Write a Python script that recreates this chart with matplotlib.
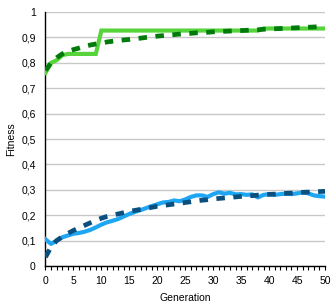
import matplotlib
matplotlib.use("Agg")
import matplotlib.pyplot as plt
from matplotlib.ticker import MultipleLocator, FuncFormatter

plt.rcParams['font.family'] = ['Liberation Sans', 'DejaVu Sans']

generations = list(range(51))

green_solid = [0.76, 0.80, 0.81, 0.83, 0.835, 0.835, 0.835, 0.835, 0.835, 0.835,
               0.927, 0.927, 0.927, 0.927, 0.927, 0.927, 0.927, 0.927, 0.927, 0.927,
               0.927, 0.927, 0.927, 0.927, 0.927, 0.927, 0.927, 0.927, 0.927, 0.927,
               0.927, 0.927, 0.927, 0.927, 0.927, 0.927, 0.927, 0.927, 0.927, 0.935,
               0.935, 0.935, 0.935, 0.935, 0.935, 0.935, 0.935, 0.935, 0.935, 0.935, 0.935]

green_dashed = [0.77, 0.80, 0.82, 0.835, 0.845, 0.852, 0.858, 0.865, 0.87, 0.874,
                0.878, 0.882, 0.885, 0.888, 0.89, 0.892, 0.895, 0.897, 0.9, 0.902,
                0.905, 0.907, 0.909, 0.911, 0.913, 0.915, 0.916, 0.918, 0.919, 0.92,
                0.922, 0.923, 0.924, 0.925, 0.926, 0.927, 0.928, 0.929, 0.93, 0.932,
                0.933, 0.934, 0.935, 0.936, 0.937, 0.938, 0.939, 0.94, 0.941, 0.942, 0.943]

blue_solid = [0.105, 0.087, 0.10, 0.113, 0.12, 0.127, 0.13, 0.135, 0.142, 0.152,
              0.163, 0.172, 0.178, 0.185, 0.195, 0.205, 0.213, 0.22, 0.228, 0.236,
              0.243, 0.25, 0.252, 0.258, 0.255, 0.262, 0.272, 0.278, 0.278, 0.272,
              0.283, 0.29, 0.285, 0.288, 0.282, 0.283, 0.28, 0.282, 0.27, 0.28,
              0.283, 0.28, 0.283, 0.285, 0.283, 0.286, 0.29, 0.286, 0.278, 0.275, 0.273]

blue_dashed = [0.035, 0.075, 0.10, 0.115, 0.128, 0.14, 0.15, 0.16, 0.17, 0.18,
               0.188, 0.195, 0.2, 0.205, 0.21, 0.215, 0.219, 0.223, 0.227, 0.231,
               0.235, 0.238, 0.241, 0.244, 0.247, 0.25, 0.253, 0.256, 0.259, 0.261,
               0.264, 0.266, 0.268, 0.27, 0.272, 0.274, 0.276, 0.277, 0.279, 0.28,
               0.282, 0.283, 0.285, 0.286, 0.287, 0.289, 0.29, 0.291, 0.292, 0.293, 0.294]

fig = plt.figure(figsize=(3.32, 3.04), dpi=100)
ax = fig.add_axes([0.137, 0.125, 0.842, 0.8355])

ax.plot(generations, green_solid, color='#57d43c', lw=3.0, solid_joinstyle='miter', zorder=3)
ax.plot(generations, green_dashed, color='#007a0a', lw=3.4, dashes=(1.8, 1.8), zorder=4)
ax.plot(generations, blue_solid, color='#1fa6f2', lw=3.0, zorder=3)
ax.plot(generations, blue_dashed, color='#0b4f7f', lw=3.4, dashes=(1.8, 1.8), zorder=4)

ax.set_xlim(0, 50)
ax.set_ylim(0, 1)
ax.xaxis.set_major_locator(MultipleLocator(5))
ax.xaxis.set_minor_locator(MultipleLocator(1))
ax.yaxis.set_major_locator(MultipleLocator(0.1))
ax.yaxis.set_major_formatter(FuncFormatter(lambda v, p: ('%g' % round(v, 1)).replace('.', ',')))

ax.grid(axis='y', color='#c8c8c8', lw=1.0)
ax.set_axisbelow(True)
for s in ['top', 'right']:
    ax.spines[s].set_visible(False)
ax.spines['left'].set_color('black')
ax.spines['bottom'].set_color('black')
ax.spines['left'].set_linewidth(1.0)
ax.spines['bottom'].set_linewidth(1.0)

ax.tick_params(axis='x', which='both', direction='out', length=3, width=0.8, labelsize=7.5, pad=4)
ax.tick_params(axis='y', which='both', length=0, labelsize=7.5, pad=7)

ax.set_xlabel('Generation', fontsize=7.5, labelpad=5)
ax.set_ylabel('Fitness', fontsize=7.5, labelpad=4)

fig.savefig('out.png', dpi=100)
